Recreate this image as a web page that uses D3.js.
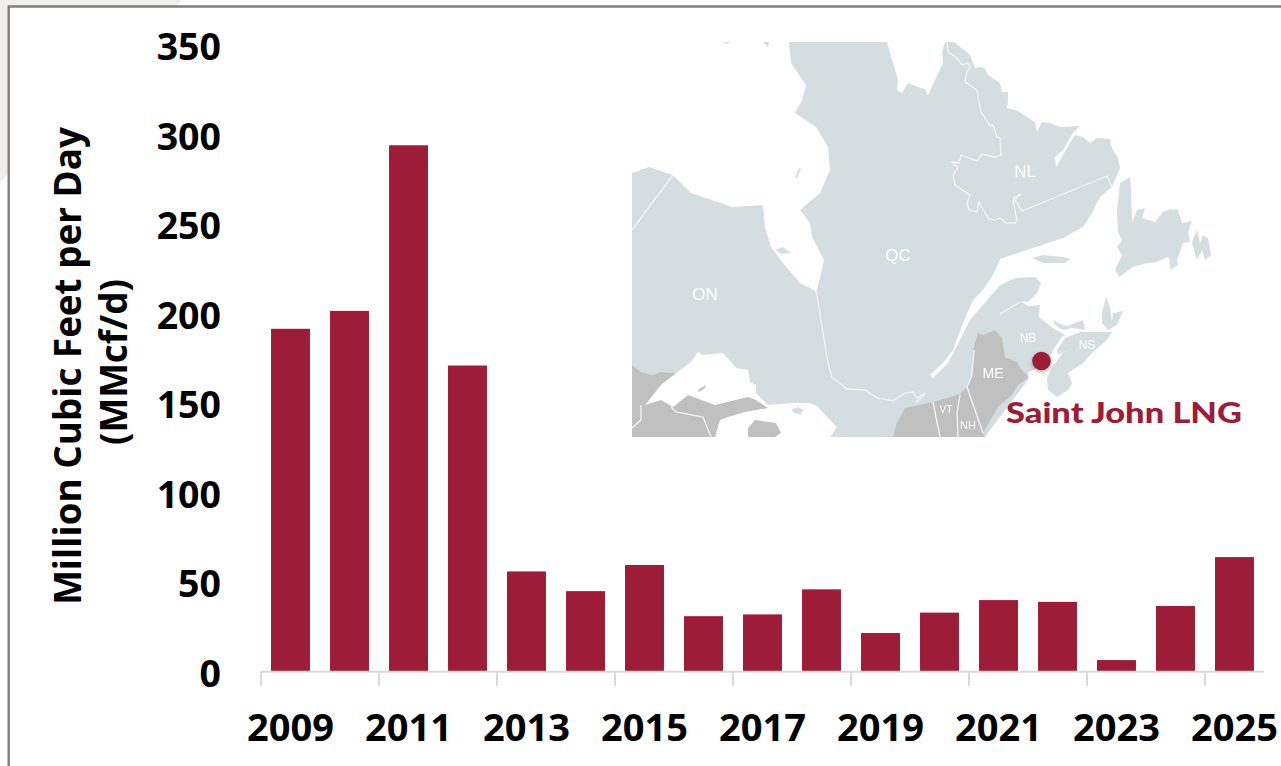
<!DOCTYPE html>
<html><head><meta charset="utf-8">
<style>html,body{margin:0;padding:0;background:#fff;overflow:hidden}svg{display:block}</style>
<script src="https://cdnjs.cloudflare.com/ajax/libs/d3/7.8.5/d3.min.js"></script>
</head><body><svg id="c" width="1281" height="766"></svg>
<script>
const years=["2009","2010","2011","2012","2013","2014","2015","2016","2017","2018","2019","2020","2021","2022","2023","2024","2025"];
const values=[191.5,201.5,294,171,56,45,59.6,31,32,46,21.6,33,40,39,6.5,36.7,64];
const yTicks=[0,50,100,150,200,250,300,350];
const xLabels=["2009","2011","2013","2015","2017","2019","2021","2023","2025"];
const titleLines=["Million Cubic Feet per Day","(MMcf/d)"];
const mapLabels=[["ON",705,294,17],["QC",898,255,17],["NL",1025,171,17],["NB",1028,338,12],["NS",1087,345,12],["ME",993,373,14],["VT",946,409,10],["NH",968,425,11]];
const siteName="Saint John LNG";
const site=[1041.5,361];
// map outlines, in map units
const mainLand=[[632,173],[649,167],[673,175],[691,193],[718,202],[732,207],[763,205],[765,227],[771,247],[783,263],[800,283],[814,290],[816,293],[820,278],[824,260],[812,237],[810,223],[800,210],[820,193],[830,170],[828,147],[816,127],[795,113],[802,100],[806,85],[791,63],[789,42],[887,42],[892,60],[898,80],[897,90],[902,93],[908,83],[918,87],[925,89],[928,95],[935,80],[943,63],[942,52],[945,42],[954,42],[970,55],[975,68],[980,67],[985,68],[988,75],[1000,83],[1002,92],[1008,92],[1008,102],[1007,108],[1018,111],[1027,117],[1035,122],[1037,132],[1042,122],[1050,123],[1060,127],[1080,126],[1073,133],[1063,150],[1055,157],[1056,167],[1067,148],[1075,135],[1083,137],[1090,143],[1097,138],[1110,139],[1112,148],[1118,158],[1120,168],[1112,187],[1100,197],[1092,213],[1083,227],[1063,238],[1033,248],[1000,259],[993,275],[983,290],[973,300],[963,323],[953,350],[943,363],[930,375],[933,378],[948,363],[960,340],[970,320],[983,305],[1000,285],[1015,278],[1035,277],[1041,283],[1037,293],[1028,302],[1020,301],[1028,306],[1040,305],[1039,317],[1053,328],[1065,335],[1062,337],[1053,350],[1047,365],[1028,372],[1028,380],[985,437],[830,437],[837,427],[828,418],[818,407],[810,403],[791,403],[768,405],[763,400],[756,393],[756,385],[750,382],[748,370],[736,368],[723,353],[703,355],[698,352],[691,362],[683,368],[676,373],[660,372],[653,375],[641,372],[632,365]];
const usEast=[[978,333],[983,335],[995,330],[1002,338],[1005,357],[1017,362],[1020,368],[1029,377],[1018,385],[1012,395],[998,407],[983,433],[985,437],[893,437],[896,425],[905,408],[933,402],[960,394],[967,387],[972,375],[973,350]];
const usWest=[[632,365],[641,372],[653,375],[660,372],[676,373],[661,385],[645,405],[661,400],[673,407],[688,395],[715,405],[748,397],[756,400],[768,408],[745,412],[728,417],[720,420],[715,437],[632,437]];
const michigan=[[755,420],[776,423],[781,433],[775,437],[748,437],[748,428]];
const isleRoyale=[[698,390],[706,385],[705,388],[699,392]];
const manitoulin=[[791,410],[798,407],[803,410],[801,415],[795,413]];
const akimiski=[[775,250],[783,247],[791,253],[781,254]];
const bayIsle=[[795,178],[799,168],[801,169],[797,178]];
const topIsleA=[[722,42],[730,42],[727,44]];
const topIsleB=[[763,42],[769,42],[768,47]];
const newfoundland=[[1130,177],[1131,190],[1132,223],[1137,210],[1145,208],[1142,218],[1155,222],[1163,212],[1170,209],[1178,210],[1182,223],[1192,221],[1188,232],[1190,242],[1183,243],[1177,260],[1178,265],[1170,270],[1170,260],[1168,257],[1157,262],[1147,263],[1133,267],[1119,277],[1115,270],[1122,255],[1117,247],[1122,240],[1118,232],[1117,210],[1120,183]];
const avalon=[[1192,242],[1197,230],[1200,243],[1203,235],[1208,238],[1211,255],[1205,260],[1202,250],[1197,260],[1193,247]];
const anticosti=[[1032,258],[1043,255],[1063,257],[1070,259],[1065,263],[1043,263]];
const pei=[[1053,320],[1058,323],[1067,326],[1083,320],[1085,330],[1073,328],[1063,330],[1055,325]];
const capeBreton=[[1106,297],[1110,307],[1112,323],[1113,313],[1123,311],[1117,325],[1108,330],[1102,323],[1102,313]];
const novaScotia=[[1065,338],[1080,332],[1112,332],[1107,340],[1093,352],[1083,363],[1068,373],[1072,383],[1068,390],[1057,397],[1048,390],[1047,378],[1052,367],[1063,353],[1073,348],[1058,355],[1057,350]];
const borders=[
 [[673,175],[632,230]],
 [[816,290],[828,363],[832,377],[847,389],[865,390],[877,398],[893,401],[905,393],[913,392],[917,398],[925,393]],
 [[916,403],[925,393]],
 [[947,42],[948,52],[957,58],[962,65],[968,63],[970,67],[967,72],[965,82],[977,90],[981,112],[985,118],[990,126],[993,125],[997,137],[1000,138],[1001,155],[995,157],[982,154],[977,161],[961,155],[959,163],[952,162],[958,168],[953,175],[955,185],[970,195],[967,203],[969,210],[977,212],[979,202],[988,218],[995,220],[1000,218],[1006,223],[1015,223],[1017,220],[1013,201],[1021,194],[1013,198],[1017,203],[1022,211],[1107,176],[1112,187]],
 [[1000,314],[1020,302]],
 [[974,350],[972,375],[967,387],[983,433]],
 [[933,402],[940,437]],
 [[960,395],[957,413],[958,437]],
 [[641,405],[641,420],[632,428]],
 [[671,407],[676,412],[703,417],[711,437]]
];
const W=1281,H=766;
const svg=d3.select("#c");
const x=d3.scaleBand().domain(years).range([261,1264]).paddingInner(0.34).paddingOuter(0.17);
const y=d3.scaleLinear().domain([0,350]).range([671.7,45]);
const mx=d3.scaleLinear().domain([632,1281]).range([632,1281]);
const my=d3.scaleLinear().domain([42,437]).range([42,437]);
const line=d3.line().x(d=>mx(d[0])).y(d=>my(d[1]));
const FONT="'Open Sans',sans-serif", BLACK="#000", RED="#9d1c38";
// backdrop
svg.append("rect").attr("width",W).attr("height",H).attr("fill","#fff");
svg.append("path").attr("d","M0,0L182,0L0,182Z").attr("fill","#efeeec");
svg.append("rect").attr("x",8.7).attr("y",6.5).attr("width",W).attr("height",H).attr("fill","#fff");
svg.append("path").attr("d","M8.7,766V6.5H1281").attr("fill","none").attr("stroke","#7f7f7f").attr("stroke-width",2.4);
// map
const defs=svg.append("defs");
const f=defs.append("filter").attr("id","ds").attr("x","-50%").attr("y","-50%").attr("width","200%").attr("height","200%");
f.append("feDropShadow").attr("dx",0).attr("dy",2).attr("stdDeviation",2).attr("flood-color","#000").attr("flood-opacity",.3);
const blur=defs.append("filter").attr("id","soft");blur.append("feGaussianBlur").attr("stdDeviation",0.35);
const mg=svg.append("g").attr("filter","url(#soft)");
const LAND="#d4dee1",US="#c0c0c0";
[mainLand,newfoundland,avalon,anticosti,pei,capeBreton,novaScotia,manitoulin,akimiski,bayIsle,topIsleA,topIsleB].forEach(p=>mg.append("path").attr("d",line(p)+"Z").attr("fill",LAND));
[usEast,usWest,michigan,isleRoyale].forEach(p=>mg.append("path").attr("d",line(p)+"Z").attr("fill",US));
borders.forEach(p=>mg.append("path").attr("d",line(p)).attr("fill","none").attr("stroke","#f4f6f6").attr("stroke-width",1.3));
mg.selectAll("text").data(mapLabels).join("text").attr("x",d=>mx(d[1])).attr("y",d=>my(d[2])).attr("dy","0.36em").attr("text-anchor","middle").attr("font-family","'Liberation Sans',sans-serif").attr("font-size",d=>d[3]).attr("fill","#fff").text(d=>d[0]);
svg.append("ellipse").attr("cx",mx(site[0])).attr("cy",my(site[1])).attr("rx",9.3).attr("ry",9.3).attr("fill",RED).attr("filter","url(#ds)");
svg.append("text").attr("x",1006).attr("y",423).attr("font-family","Lato,sans-serif").attr("font-weight",900).attr("font-size",28).attr("fill",RED).attr("textLength",236).attr("lengthAdjust","spacingAndGlyphs").text(siteName);
// bars
svg.append("g").selectAll("rect").data(values).join("rect").attr("x",(d,i)=>x(years[i])).attr("width",x.bandwidth()).attr("y",d=>y(d)).attr("height",d=>y(0)-y(d)).attr("fill",RED);
// axes
const step=x.step();
const ax=svg.append("g").attr("stroke","#d9d9d9").attr("stroke-width",2).attr("fill","none");
ax.append("path").attr("d",`M${x.range()[0]},${y(0)}H${x.range()[1]}`);
xLabels.forEach(l=>{const p=x(l)-(step-x.bandwidth())/2;ax.append("path").attr("d",`M${p},${y(0)}v14`);});
svg.append("g").selectAll("text").data(xLabels).join("text").attr("x",d=>x(d)+x.bandwidth()/2).attr("y",740.5).attr("text-anchor","middle").attr("font-family",FONT).attr("font-weight",700).attr("font-size",38).attr("fill",BLACK).text(d=>d);
svg.append("g").selectAll("text").data(yTicks).join("text").attr("x",221).attr("y",d=>y(d)+15).attr("text-anchor","end").attr("font-family",FONT).attr("font-weight",700).attr("font-size",37.5).attr("fill",BLACK).text(d=>d);
// title
const titleX=[81,127];
svg.selectAll("text.t").data(titleLines).join("text").attr("class","t").attr("transform",(d,i)=>`translate(${titleX[i]},${i?362:366}) rotate(-90)`).attr("text-anchor","middle").attr("font-family",FONT).attr("font-weight",700).attr("font-size",36.8).attr("fill",BLACK).text(d=>d);
</script></body></html>
